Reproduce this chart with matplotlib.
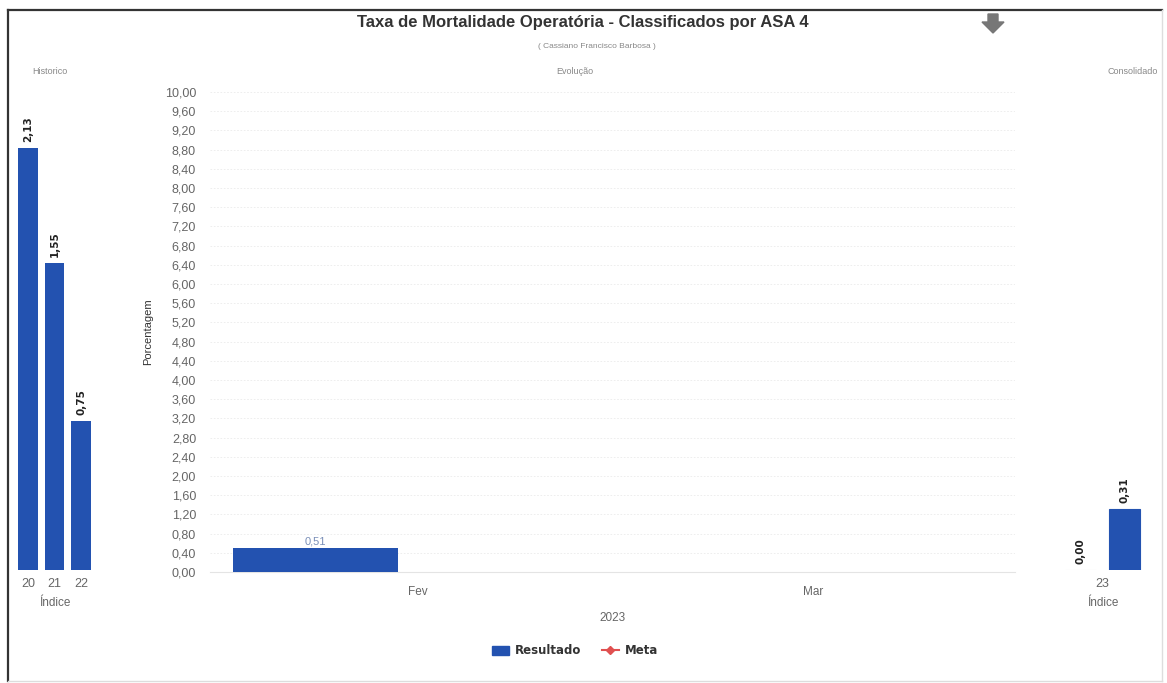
import numpy as np
import matplotlib
matplotlib.use("Agg")
from matplotlib import pyplot as plt
from matplotlib.patches import Patch, Polygon
from matplotlib.lines import Line2D

# --- data ---
hist_labels = ["20", "21", "22"]
hist_values = [2.13, 1.55, 0.75]

month_labels = ["Fev", "Mar"]
resultado = [0.51]          # one bar in the evolution panel
resultado_month = [0]       # index into month_labels

cons_label = "23"
cons_values = [0.00, 0.31]  # two bars in the consolidated group

y_ticks = np.arange(0, 10.01, 0.4)

BLUE = "#2352b0"
GRAY = "#666666"
W, H = 1167, 683

plt.rcParams["font.family"] = ["Liberation Sans", "DejaVu Sans"]

fig = plt.figure(figsize=(W / 100, H / 100), dpi=100)


def box(x0, y0, x1, y1):
    # pixel box (top-left origin) -> figure fraction rect
    return [x0 / W, 1 - y1 / H, (x1 - x0) / W, (y1 - y0) / H]


def fmt(v):
    return f"{v:.2f}".replace(".", ",")


def side_style(ax):
    for s in ax.spines.values():
        s.set_visible(False)
    ax.set_yticks([])
    ax.tick_params(axis="x", length=0, labelsize=9, colors=GRAY, pad=6)
    ax.set_ylim(0, 2.42)


# --- historico ---
ax_h = fig.add_axes(box(12, 90, 97, 570))
xh = np.arange(len(hist_values))
ax_h.bar(xh, hist_values, width=0.75, color=BLUE)
for x, v in zip(xh, hist_values):
    ax_h.text(x, v + 0.03, fmt(v), rotation=90, ha="center", va="bottom",
              fontsize=7.5, fontweight="bold", color="#222222", family="DejaVu Sans")
ax_h.set_xticks(xh, hist_labels)
ax_h.set_xlim(-0.6, 2.6)
side_style(ax_h)
ax_h.set_xlabel("Índice", fontsize=8.5, color=GRAY, labelpad=5)

# --- evolucao ---
ax = fig.add_axes(box(210, 92, 1015, 572))
bar_offset, bar_w = -0.26, 0.42
ax.bar(np.array(resultado_month) + bar_offset, resultado, width=bar_w, color=BLUE, zorder=3)
for m, v in zip(resultado_month, resultado):
    ax.text(m + bar_offset, v + 0.02, fmt(v), ha="center", va="bottom",
            fontsize=8, color="#7a8fb8", zorder=4)
ax.set_xlim(-0.527, 1.511)
ax.set_ylim(0, 10)
ax.set_yticks(y_ticks, [fmt(v) for v in y_ticks])
ax.set_xticks(range(len(month_labels)), month_labels)
ax.tick_params(axis="y", length=0, labelsize=9, colors=GRAY, pad=10)
ax.tick_params(axis="x", length=0, labelsize=8.5, colors=GRAY, pad=10)
ax.grid(axis="y", color="#ebebeb", lw=0.6, ls=(0, (2, 2)), zorder=0)
for s in ["top", "right", "left"]:
    ax.spines[s].set_visible(False)
ax.spines["bottom"].set_color("#e4e4e4")
ax.set_ylabel("Porcentagem", fontsize=8, color="#333333", labelpad=8)
ax.set_xlabel("2023", fontsize=8.5, color=GRAY, labelpad=10)

# --- consolidado ---
ax_c = fig.add_axes(box(1055, 90, 1150, 570))
offs = [-0.235, 0.235]
ax_c.bar(offs, cons_values, width=0.326, color=BLUE, edgecolor=["#dddddd", BLUE], lw=0.8)
for x, v in zip(offs, cons_values):
    ax_c.text(x, v + 0.03, fmt(v), rotation=90, ha="center", va="bottom",
              fontsize=7.5, fontweight="bold", color="#222222", family="DejaVu Sans")
ax_c.set_xticks([0], [cons_label])
ax_c.set_xlim(-0.5, 0.5)
side_style(ax_c)
ax_c.set_xlabel("Índice", fontsize=8.5, color=GRAY, labelpad=5)

# --- titles ---
fig.text(583 / W, 1 - 23 / H, "Taxa de Mortalidade Operatória - Classificados por ASA 4",
         ha="center", va="center", fontsize=12, fontweight="bold", color="#333333")
fig.text(597 / W, 1 - 46 / H, "( Cassiano Francisco Barbosa )",
         ha="center", va="center", fontsize=6, color="#888888")
fig.text(575 / W, 1 - 72 / H, "Evolução", ha="center", va="center", fontsize=6.5, color="#888888")
fig.text(50 / W, 1 - 72 / H, "Historico", ha="center", va="center", fontsize=6.5, color="#888888")
fig.text(1133 / W, 1 - 72 / H, "Consolidado", ha="center", va="center", fontsize=6.5, color="#888888")

# download arrow icon
arrow = [(988, 14), (998, 14), (998, 22), (1004, 22), (993, 33), (982, 22), (988, 22)]
fig.patches.append(Polygon([(x / W, 1 - y / H) for x, y in arrow], closed=True,
                           transform=fig.transFigure, color="#777777"))

# legend
handles = [Patch(color=BLUE, label="Resultado"),
           Line2D([], [], color="#e05050", marker="D", markersize=4, lw=1.5, label="Meta")]
fig.legend(handles=handles, loc="center", bbox_to_anchor=(575 / W, 1 - 651 / H), ncol=2,
           frameon=False, prop={"family": "DejaVu Sans", "weight": "bold", "size": 8.5},
           handlelength=1.4, columnspacing=1.8, handletextpad=0.5, labelcolor="#333333")

# frame
fig.add_artist(Line2D([8 / W, 8 / W], [1 - 10 / H, 1 - 681 / H], color="#333333", lw=1.6))
fig.add_artist(Line2D([8 / W, 1162 / W], [1 - 10 / H, 1 - 10 / H], color="#333333", lw=1.6))
fig.add_artist(Line2D([1162 / W, 1162 / W], [1 - 10 / H, 1 - 681 / H], color="#dddddd", lw=1))
fig.add_artist(Line2D([8 / W, 1162 / W], [1 - 681 / H, 1 - 681 / H], color="#dddddd", lw=1))

fig.savefig("out.png", dpi=100, facecolor="white")
